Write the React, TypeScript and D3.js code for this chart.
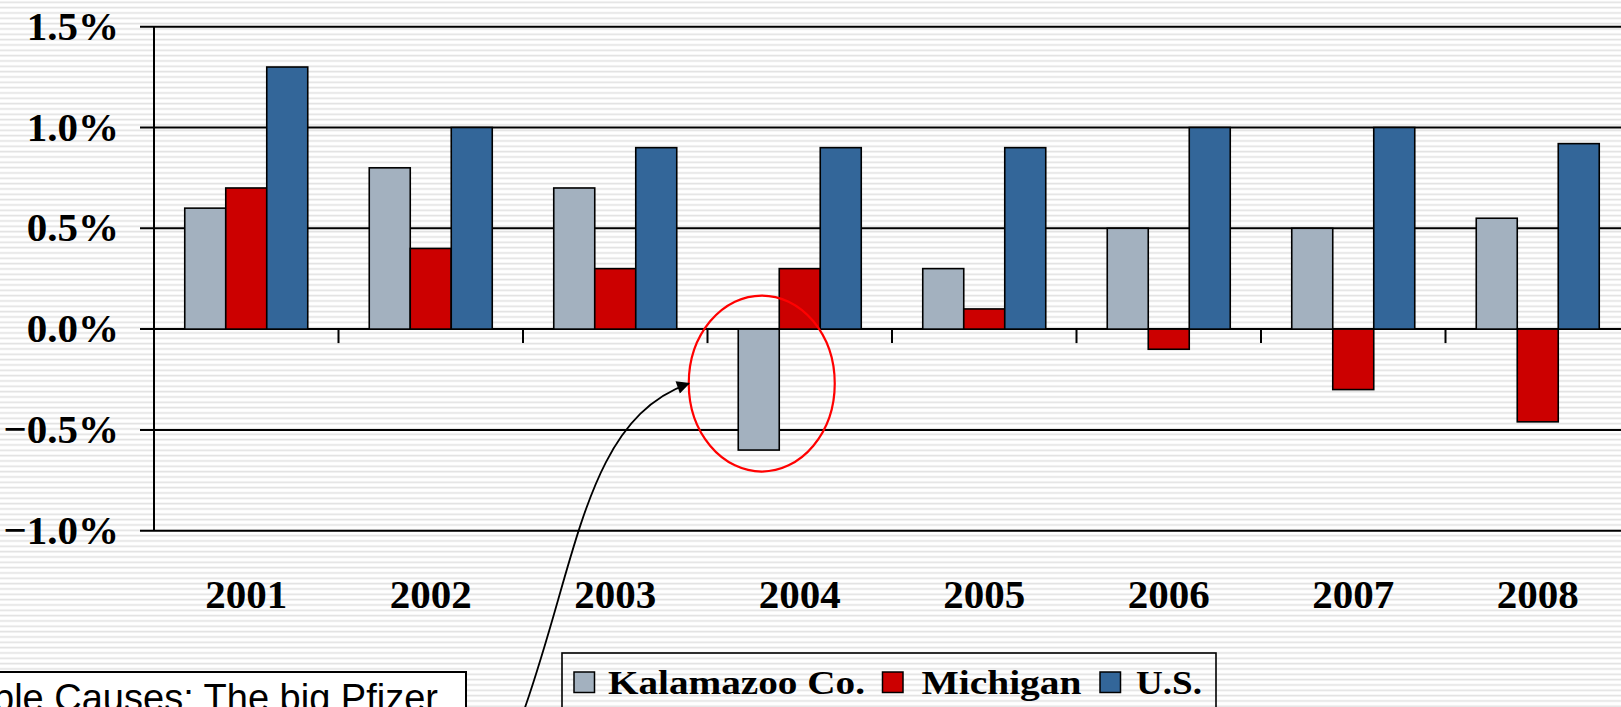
import React, { useEffect, useRef } from 'react';
import * as d3 from 'd3';

const years = ['2001', '2002', '2003', '2004', '2005', '2006', '2007', '2008'];
const seriesNames = ['Kalamazoo Co.', 'Michigan', 'U.S.'];
const kalamazoo = [0.6, 0.8, 0.7, -0.6, 0.3, 0.5, 0.5, 0.55];
const michigan = [0.7, 0.4, 0.3, 0.3, 0.1, -0.1, -0.3, -0.46];
const us = [1.3, 1.0, 0.9, 0.9, 0.9, 1.0, 1.0, 0.92];
const yTicks = [1.5, 1.0, 0.5, 0.0, -0.5, -1.0];
const colors = ['#A3B1BF', '#CC0000', '#336699'];
const noteText = 'Possible Causes: The big Pfizer';

const W = 1621;
const H = 707;

const App: React.FC = () => {
  const svgRef = useRef<SVGSVGElement>(null);

  useEffect(() => {
    if (!svgRef.current) return;
    const svg = d3.select(svgRef.current);
    svg.selectAll('*').remove();

    const left = 154;
    const catWidth = 184.5;
    const right = left + catWidth * years.length;

    // striped page background
    const defs = svg.append('defs');
    const pat = defs.append('pattern')
      .attr('id', 'stripes')
      .attr('patternUnits', 'userSpaceOnUse')
      .attr('width', 8)
      .attr('height', 16 / 3);
    pat.append('rect').attr('width', 8).attr('height', 16 / 3).attr('fill', '#ffffff');
    pat.append('rect').attr('y', 1.5).attr('width', 8).attr('height', 1.6).attr('fill', '#e2e2e2');

    svg.append('rect')
      .attr('width', W)
      .attr('height', H)
      .attr('fill', 'url(#stripes)');

    const y = d3.scaleLinear().domain([-1, 1.5]).range([530.7, 26.7]);
    const x0 = d3.scaleBand<string>().domain(years).range([left, right]);
    const bw = x0.bandwidth() / 4.5;
    const x1 = d3.scaleBand<string>().domain(seriesNames).range([0, bw * 3]);

    // gridlines + y ticks
    svg.append('g')
      .selectAll('line')
      .data(yTicks)
      .join('line')
      .attr('x1', left - 14)
      .attr('x2', right)
      .attr('y1', d => y(d))
      .attr('y2', d => y(d))
      .attr('stroke', '#000')
      .attr('stroke-width', 2);

    svg.append('line')
      .attr('x1', left)
      .attr('x2', left)
      .attr('y1', y(1.5))
      .attr('y2', y(-1))
      .attr('stroke', '#000')
      .attr('stroke-width', 2);

    // y labels
    svg.append('g')
      .selectAll('text')
      .data(yTicks)
      .join('text')
      .attr('x', 119)
      .attr('y', d => y(d) + 13)
      .attr('text-anchor', 'end')
      .style('font-family', '"Liberation Serif", serif')
      .style('font-weight', 'bold')
      .style('font-size', '41px')
      .text(d => d3.format('.1f')(d) + '%');

    // bars
    const values = [kalamazoo, michigan, us];
    seriesNames.forEach((name, si) => {
      svg.append('g')
        .selectAll('rect')
        .data(values[si].map((v, i) => ({ year: years[i], v })))
        .join('rect')
        .attr('x', d => (x0(d.year) as number) + bw * 0.75 + (x1(name) as number))
        .attr('y', d => y(Math.max(0, d.v)))
        .attr('width', bw)
        .attr('height', d => Math.abs(y(d.v) - y(0)))
        .attr('fill', colors[si])
        .attr('stroke', '#000')
        .attr('stroke-width', 1.6);
    });

    // x tick marks between categories
    svg.append('g')
      .selectAll('line')
      .data(years.slice(1))
      .join('line')
      .attr('x1', d => x0(d) as number)
      .attr('x2', d => x0(d) as number)
      .attr('y1', y(0))
      .attr('y2', y(0) + 14)
      .attr('stroke', '#000')
      .attr('stroke-width', 2);

    // year labels
    svg.append('g')
      .selectAll('text')
      .data(years)
      .join('text')
      .attr('x', d => (x0(d) as number) + x0.bandwidth() / 2)
      .attr('y', 608)
      .attr('text-anchor', 'middle')
      .style('font-family', '"Liberation Serif", serif')
      .style('font-weight', 'bold')
      .style('font-size', '41px')
      .text(d => d);

    // annotation ellipse around 2004 Kalamazoo bar
    const cx = (x0('2004') as number) + bw * 0.75 + (x1('Kalamazoo Co.') as number) + bw / 2 + 3;
    svg.append('ellipse')
      .attr('cx', cx)
      .attr('cy', y(-0.27))
      .attr('rx', 73)
      .attr('ry', 88)
      .attr('fill', 'none')
      .attr('stroke', '#FF0000')
      .attr('stroke-width', 2.2);

    // arrow
    defs.append('marker')
      .attr('id', 'arrowhead')
      .attr('viewBox', '0 0 10 10')
      .attr('refX', 9)
      .attr('refY', 5)
      .attr('markerWidth', 15)
      .attr('markerHeight', 13)
      .attr('markerUnits', 'userSpaceOnUse')
      .attr('orient', 'auto')
      .append('path')
      .attr('d', 'M0,0 L10,5 L0,10 z')
      .attr('fill', '#000');

    const tipX = cx - 73;
    const tipY = y(-0.27);
    svg.append('path')
      .attr('d', `M522,716 C578,560 585,420 ${tipX},${tipY}`)
      .attr('fill', 'none')
      .attr('stroke', '#000')
      .attr('stroke-width', 1.8)
      .attr('marker-end', 'url(#arrowhead)');

    // note box (cut off at left / bottom)
    svg.append('rect')
      .attr('x', -20)
      .attr('y', 672)
      .attr('width', 486)
      .attr('height', 80)
      .attr('fill', '#fff')
      .attr('stroke', '#000')
      .attr('stroke-width', 2);

    svg.append('text')
      .attr('x', 438)
      .attr('y', 711)
      .attr('text-anchor', 'end')
      .style('font-family', '"Liberation Sans", Arial, sans-serif')
      .style('font-size', '38px')
      .text(noteText);

    // legend
    const legend = svg.append('g');
    legend.append('rect')
      .attr('x', 562)
      .attr('y', 653)
      .attr('width', 654)
      .attr('height', 80)
      .attr('fill', 'none')
      .attr('stroke', '#000')
      .attr('stroke-width', 1.6);

    const legendItems = [
      { sq: 574, tx: 608, tw: 257 },
      { sq: 882.5, tx: 921.5, tw: 160 },
      { sq: 1100, tx: 1136, tw: 66 }
    ];
    seriesNames.forEach((name, i) => {
      const it = legendItems[i];
      legend.append('rect')
        .attr('x', it.sq)
        .attr('y', 672)
        .attr('width', 20.5)
        .attr('height', 20.5)
        .attr('fill', colors[i])
        .attr('stroke', '#000')
        .attr('stroke-width', 1.5);
      legend.append('text')
        .attr('x', it.tx)
        .attr('y', 694)
        .attr('textLength', it.tw)
        .attr('lengthAdjust', 'spacingAndGlyphs')
        .style('font-family', '"Liberation Serif", serif')
        .style('font-weight', 'bold')
        .style('font-size', '34px')
        .text(name);
    });
  }, []);

  return (
    <svg
      ref={svgRef}
      width={W}
      height={H}
      style={{ position: 'absolute', left: 0, top: 0, display: 'block' }}
    />
  );
};

export default App;
